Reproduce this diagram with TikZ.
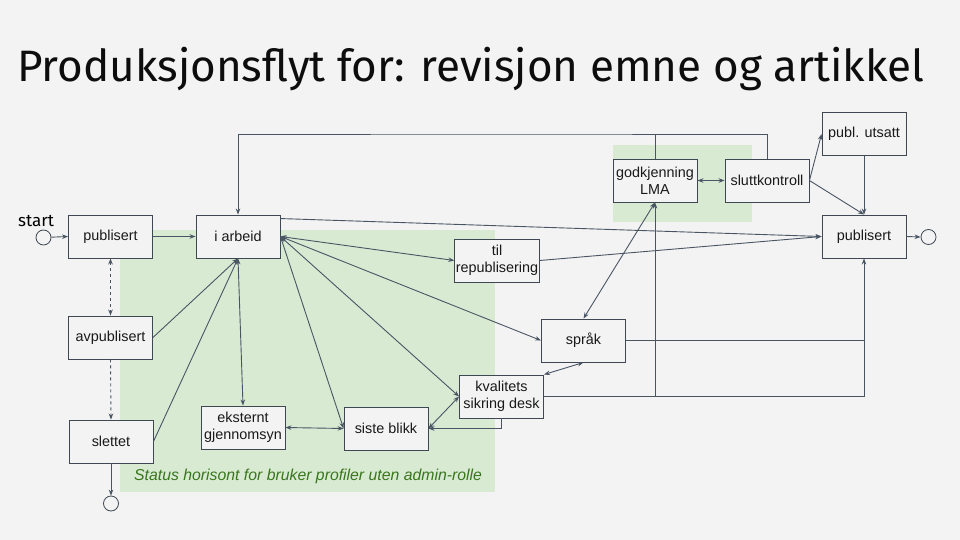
\documentclass[tikz,border=0pt]{standalone}
\usepackage{fontspec}
\setmainfont{Liberation Sans}
\newfontfamily\titlefont{Fira Sans}
\usetikzlibrary{arrows.meta,calc}
\definecolor{bg}{HTML}{F3F3F3}
\definecolor{zone}{HTML}{D9EAD3}
\definecolor{ln}{HTML}{4A5564}
\definecolor{bx}{HTML}{3E4752}
\definecolor{zonetext}{HTML}{38761D}
\begin{document}
\begin{tikzpicture}[x=1pt,y=-1pt,
  state/.style={draw=bx,line width=0.9pt,fill=bg,minimum width=84pt,minimum height=43pt,inner sep=1pt,align=center,font=\fontsize{14.4}{17}\selectfont,text=black!90},
  endpt/.style={circle,draw=bx,line width=0.8pt,fill=bg,minimum size=15pt,inner sep=0pt},
  conn/.style={draw=ln,line width=0.9pt},
  tip/.style={-{Stealth[length=6pt,width=4.5pt]}},
  tips/.style={{Stealth[length=6pt,width=4.5pt]}-{Stealth[length=6pt,width=4.5pt]}}
]
\useasboundingbox[fill=bg] (0,0) rectangle (960,540);
% zones
\fill[zone] (120,230) rectangle (495,492);
\fill[zone] (613,145) rectangle (752,222);
\node[anchor=base west,inner sep=0pt,font=\itshape\fontsize{15.8}{18}\selectfont,text=zonetext] (zlabel) at (134,480) {Status horisont for bruker profiler uten admin-rolle};
% title
\node[anchor=base west,inner sep=0pt,font=\titlefont\fontsize{44}{48}\selectfont,text=black!95] (title) at (17,82) {Produksjonsflyt for: revisjon emne og artikkel};
% nodes
\node[anchor=base west,inner sep=0pt,font=\titlefont\fontsize{17}{20}\selectfont] (startlbl) at (18,226) {start};
\node[endpt] (startc) at (43.5,237.5) {};
\node[state] (pubL) at (110.5,236.5) {publisert};
\node[state] (arb) at (238,236.5) {i arbeid};
\node[state] (avp) at (110.5,337.5) {avpublisert};
\node[state] (slet) at (111,441.5) {slettet};
\node[endpt] (endB) at (111,503.5) {};
\node[state] (eks) at (243,427.5) {eksternt\\gjennomsyn};
\node[state] (siste) at (386,428.5) {siste blikk};
\node[state] (kval) at (501.5,396.5) {kvalitets\\sikring desk};
\node[state] (sprak) at (583.5,340.5) {språk};
\node[state] (tilrep) at (497,260.5) {til\\republisering};
\node[state] (lma) at (655,180.5) {godkjenning\\LMA};
\node[state] (slutt) at (767,180.5) {sluttkontroll};
\node[state] (utsatt) at (864,134) {publ. utsatt};
\node[state] (pubR) at (864,236.5) {publisert};
\node[endpt] (endR) at (928.5,237) {};
\coordinate (loop) at (500,134);
% connectors
\draw[conn,tip] (startc) -- (pubL.west);
\draw[conn,tip] (pubL) -- (arb);
\draw[conn,tips,dashed] (pubL.south) -- (avp.north);
\draw[conn,tip,dashed] (avp.south) -- (slet.north);
\draw[conn,tip] (slet.south) -- (endB.north);
\draw[conn,tip] (avp.east) -- (arb.south);
\draw[conn,tip] (slet.east) -- (arb.south);
\draw[conn,tips] (arb.south) -- (eks.north);
\draw[conn,tips] (arb.east) -- (tilrep.west);
\draw[conn,tips] (arb.east) -- (sprak.west);
\draw[conn,tips] (arb.east) -- (kval.west);
\draw[conn,tips] (arb.east) -- (siste.west);
\draw[conn,tip] ([yshift=-4pt]arb.north east) -- (pubR.west);
\draw[conn,tip] (tilrep.east) -- (pubR.west);
\draw[conn,tips] (siste.west) -- (eks.east);
\draw[conn,tip] (kval.south) |- (siste.east);
\draw[conn,tips] (siste.east) -- (kval.west);
\draw[conn,tips] (kval.north east) -- (sprak.south);
\draw[conn,tips] (sprak.north) -- (lma.south);
\draw[conn,tips] (lma.east) -- (slutt.west);
\draw[conn,tip] (slutt.east) -- (utsatt.west);
\draw[conn,tip] (slutt.east) -- (pubR.north);
\draw[conn,tip] (utsatt.south) -- (pubR.north);
\draw[conn,tip] (pubR.east) -- (endR.west);
\draw[conn,tip] (slutt.north) |- (loop) -| (arb.north);
\draw[conn] (lma.north) -- (lma.north |- loop);
\draw[conn] (sprak.east) -- (sprak.east -| pubR.south);
\draw[conn,tip] (kval.east) -| (pubR.south);
\draw[conn,tip] (kval.east -| lma.south) -- (lma.south);
\end{tikzpicture}
\end{document}
